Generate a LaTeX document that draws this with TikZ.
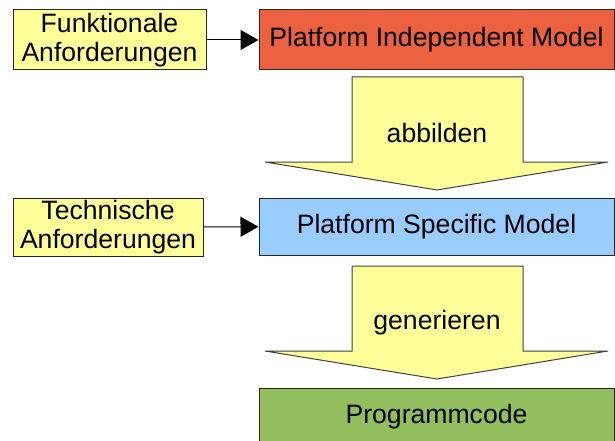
\documentclass[tikz,border=0pt]{standalone}
\usepackage{fontspec}
\setmainfont{Liberation Sans}
\usetikzlibrary{arrows.meta}

\definecolor{reqyellow}{RGB}{255,255,153}
\definecolor{pimred}{RGB}{236,98,64}
\definecolor{psmblue}{RGB}{153,204,255}
\definecolor{codegreen}{RGB}{146,190,94}

\tikzset{
  box/.style={draw=black!85,line width=1pt,inner sep=0pt,align=center,
    font=\fontsize{26.6}{29}\selectfont},
  req/.style={box,fill=reqyellow},
  model/.style={box,minimum width=355pt,minimum height=58pt},
  feed/.style={line width=1pt,-{Triangle[length=18pt,width=20pt]}},
  bigarrow/.style={draw=black!75,line width=1pt,fill=reqyellow},
}

\begin{document}
\begin{tikzpicture}[x=1pt,y=-1pt]
\useasboundingbox (0,0) rectangle (615,441);
% Anforderungen
\node[req,minimum width=193pt,minimum height=60pt] (fa) at (109.5,40) {Funktionale\\Anforderungen};
\node[req,minimum width=190pt,minimum height=58pt] (ta) at (108,227) {Technische\\Anforderungen};
% Modelle
\node[model,fill=pimred,minimum height=60pt] (pim) at (436.5,40) {Platform Independent Model};
\node[model,fill=psmblue,minimum height=57pt] (psm) at (436.5,226.5) {Platform Specific Model};
\node[model,fill=codegreen,minimum height=57pt] (pc) at (436.5,416.5) {Programmcode};
% Pfeile
\draw[feed] (fa) -- (pim);
\draw[feed] (ta) -- (psm);
\draw[bigarrow] (352,77) -- (523,77) -- (523,162) -- (608,162) -- (437,190)
  -- (265,162) -- (352,162) -- cycle;
\node[font=\fontsize{26.6}{29}\selectfont] (abb) at (437,133) {abbilden};
\draw[bigarrow] (352,266) -- (523,266) -- (523,351) -- (608,351) -- (437,379)
  -- (265,351) -- (352,351) -- cycle;
\node[font=\fontsize{26.6}{29}\selectfont] (gen) at (437,323) {generieren};
\end{tikzpicture}
\end{document}
